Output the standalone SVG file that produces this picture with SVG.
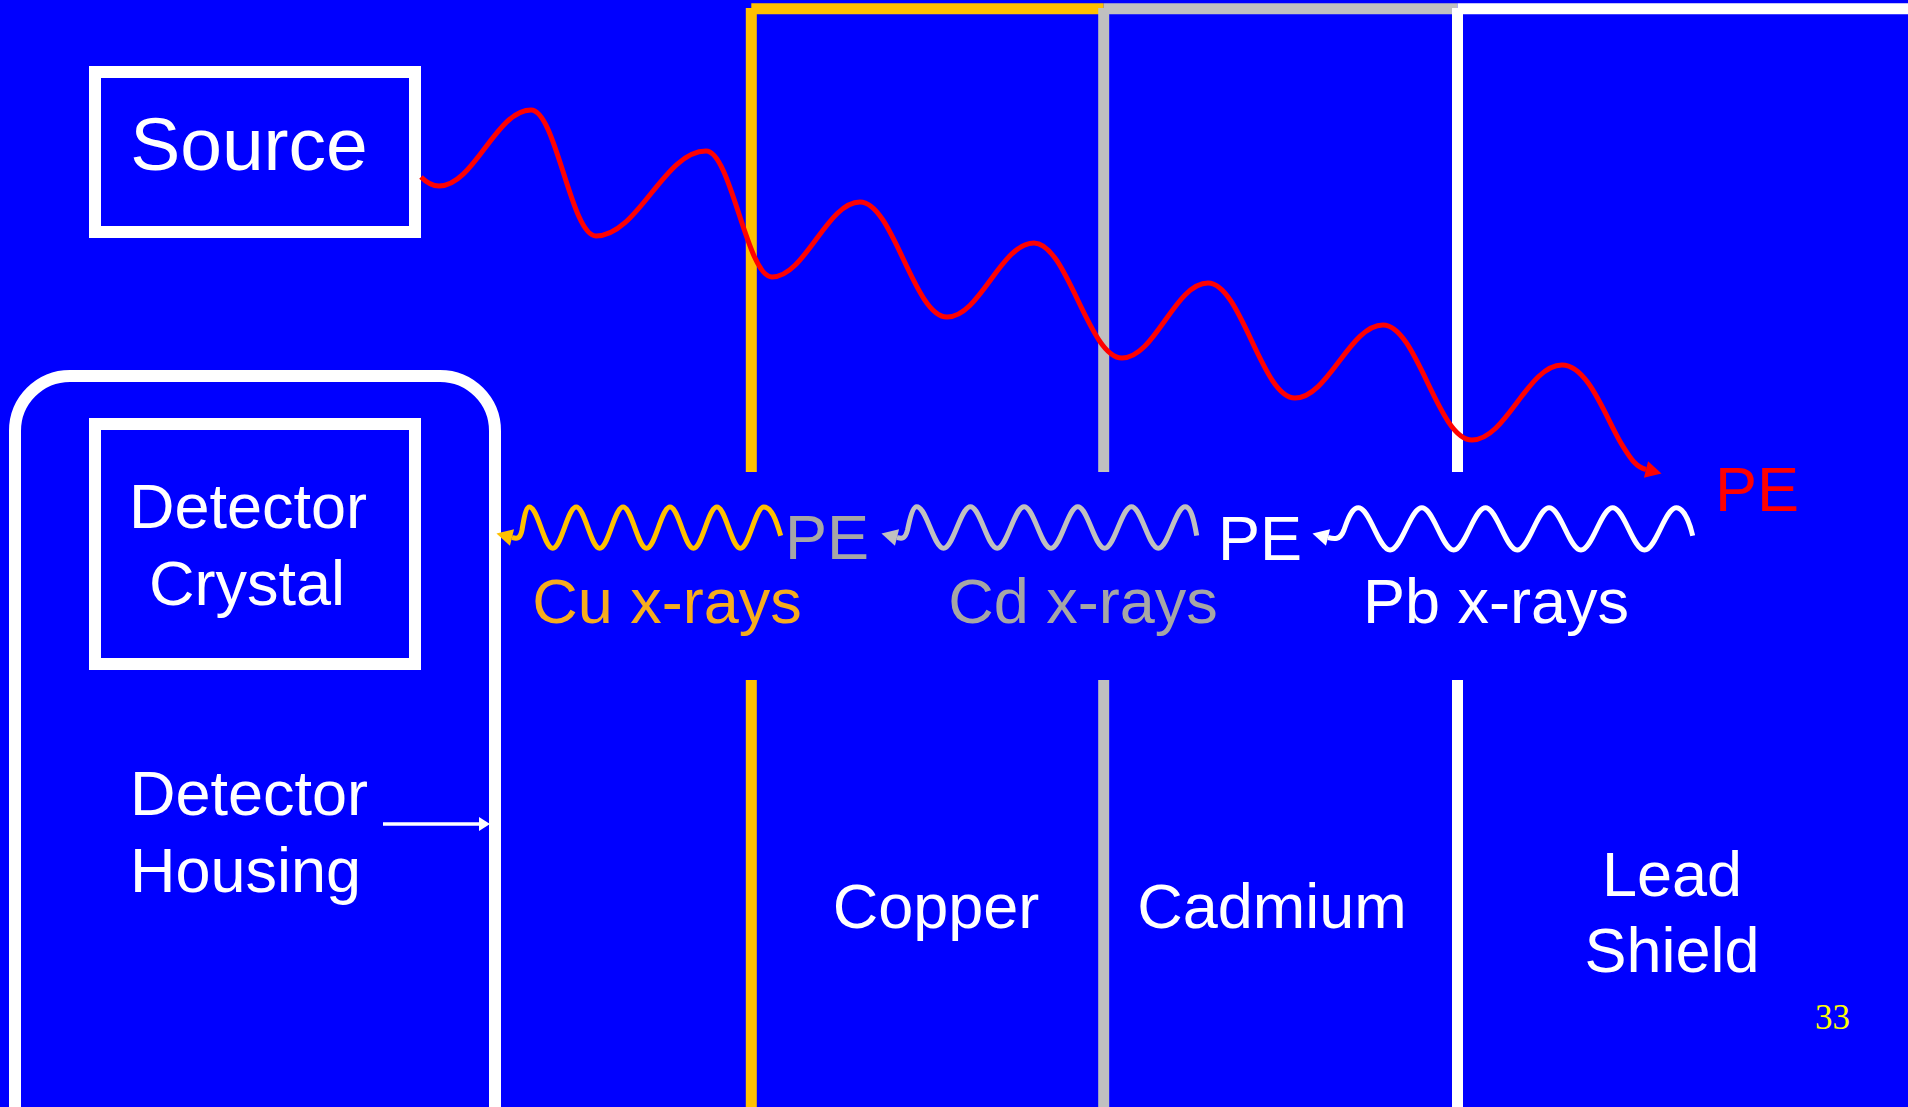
<svg xmlns="http://www.w3.org/2000/svg" width="1908" height="1107" viewBox="0 0 1908 1107">
<defs>
<style>
text{font-family:"Liberation Sans",Arial,sans-serif;}
.box{fill:none;stroke:#FFFFFF;stroke-width:12;}
.t63{font-size:63px;}
.w{fill:#FFFFFF;}
.wall{fill:none;stroke-width:11;stroke-linecap:butt;}
.cu{stroke:#FFC000;}
.cd{stroke:#C0C0C0;}
.pb{stroke:#FFFFFF;}
.xr{fill:none;stroke-width:5;stroke-linejoin:round;}
</style>
<marker id="ahR" markerUnits="userSpaceOnUse" markerWidth="18" markerHeight="18" refX="0" refY="8.5" orient="auto" overflow="visible"><path d="M0,0 L16,8.5 L0,17 z" fill="#FF0000"/></marker>
<marker id="ahY" markerUnits="userSpaceOnUse" markerWidth="18" markerHeight="18" refX="0" refY="8.5" orient="auto-start-reverse" overflow="visible"><path d="M0,0 L16,8.5 L0,17 z" fill="#FFC000"/></marker>
<marker id="ahG" markerUnits="userSpaceOnUse" markerWidth="18" markerHeight="18" refX="0" refY="8.5" orient="auto-start-reverse" overflow="visible"><path d="M0,0 L16,8.5 L0,17 z" fill="#C0C0C0"/></marker>
<marker id="ahW" markerUnits="userSpaceOnUse" markerWidth="18" markerHeight="18" refX="0" refY="8.5" orient="auto-start-reverse" overflow="visible"><path d="M0,0 L16,8.5 L0,17 z" fill="#FFFFFF"/></marker>
<marker id="ahH" markerUnits="userSpaceOnUse" markerWidth="14" markerHeight="16" refX="0" refY="7" orient="auto" overflow="visible"><path d="M0,0 L11,7 L0,14 z" fill="#FFFFFF"/></marker>
</defs>
<rect x="0" y="0" width="1908" height="1107" fill="#0000FF"/>

<g id="copper-layer">
<path class="wall cu" d="M751.3,8 V472 M751.3,680 V1107 M751.3,8.7 H1103.7"/>
<text class="t63 w" x="936" y="928" text-anchor="middle">Copper</text>
</g>
<g id="cadmium-layer">
<path class="wall cd" d="M1103.7,8 V472 M1103.7,680 V1107 M1103.7,8.7 H1457.5"/>
<text class="t63 w" x="1272" y="928" text-anchor="middle">Cadmium</text>
</g>
<g id="lead-shield">
<path class="wall pb" d="M1457.5,8 V472 M1457.5,680 V1107 M1457.5,8.7 H1908"/>
<text class="t63 w" x="1672" y="896" text-anchor="middle">Lead</text>
<text class="t63 w" x="1672" y="972" text-anchor="middle">Shield</text>
</g>

<g id="source">
<rect class="box" x="95" y="72" width="320" height="160"/>
<text class="w" x="249" y="170" font-size="75" text-anchor="middle">Source</text>
</g>

<g id="detector-housing">
<path class="box" d="M15,1120 V431 A55,55 0 0 1 70,376 H440 A55,55 0 0 1 495,431 V1120"/>
<text class="t63 w" x="130" y="815">Detector</text>
<text class="t63 w" x="130" y="892">Housing</text>
</g>

<g id="detector-crystal">
<rect class="box" x="95" y="424" width="320" height="240"/>
<text class="t63 w" x="248" y="528" text-anchor="middle">Detector</text>
<text class="t63 w" x="247" y="605" text-anchor="middle">Crystal</text>
</g>

<g id="connectors">
<path id="gamma" fill="none" stroke="#FF0000" stroke-width="5" marker-end="url(#ahR)" d="M421,177 C428,184 433,186 439,186 C474,186 496,110 531,110 C556,110 571,236 596,236 C638,236 664,151 706,151 C731,151 747,277 772,277 C805,277 827,202 860,202 C893,202 914,317 947,317 C980,317 1001,243 1034,243 C1067,243 1089,358 1122,358 C1155,358 1175,283 1208,283 C1241,283 1262,398 1295,398 C1328,398 1350,325 1383,325 C1417,325 1438,440 1472,440 C1506,440 1528,365 1562,365 C1590,365 1608,425 1624,448 C1631,459 1636,467 1646,469.5"/>
<path id="cu-xray" class="xr cu" marker-start="url(#ahY)" d="M512,537.5 C516,538.5 520,540 522,530 C524,518 526,507 529.3,507 C537.8,507 544.2,548.3 552.75,548.3 C561.3,548.3 567.7,507 576.2,507 C584.7,507 591.1,548.3 599.65,548.3 C608.2,548.3 614.6,507 623.1,507 C631.6,507 638,548.3 646.55,548.3 C655.1,548.3 661.5,507 670,507 C678.5,507 684.9,548.3 693.45,548.3 C702,548.3 708.4,507 716.9,507 C725.4,507 731.8,548.3 740.35,548.3 C748.9,548.3 755.3,507 763.8,507 C771.5,507 776,520 780.7,535.7"/>
<path id="cd-xray" class="xr cd" marker-start="url(#ahG)" d="M897,537.5 C901,538.5 905,540 907.5,530 C910,518 913,506.7 916.7,506.7 C926.5,506.7 933.8,548.3 943.55,548.3 C953.3,548.3 960.6,506.7 970.4,506.7 C980.2,506.7 987.5,548.3 997.25,548.3 C1007,548.3 1014.3,506.7 1024.1,506.7 C1033.9,506.7 1041.2,548.3 1050.95,548.3 C1060.7,548.3 1068,506.7 1077.8,506.7 C1087.6,506.7 1094.9,548.3 1104.65,548.3 C1114.4,548.3 1121.7,506.7 1131.5,506.7 C1141.3,506.7 1148.6,548.3 1158.35,548.3 C1168.1,548.3 1175.4,506.7 1185.2,506.7 C1191,506.7 1194,520 1196.7,535.7"/>
<path id="pb-xray" class="xr pb" marker-start="url(#ahW)" d="M1328,537.5 C1334,539 1340,540.5 1344,530 C1348,518 1352,507.7 1358.3,507.7 C1369.9,507.7 1378.5,550 1390.1,550 C1401.7,550 1410.3,507.7 1421.9,507.7 C1433.5,507.7 1442.1,550 1453.7,550 C1465.3,550 1473.9,507.7 1485.5,507.7 C1497.1,507.7 1505.7,550 1517.3,550 C1528.9,550 1537.5,507.7 1549.1,507.7 C1560.7,507.7 1569.3,550 1580.9,550 C1592.5,550 1601.1,507.7 1612.7,507.7 C1624.3,507.7 1632.9,550 1644.5,550 C1656.1,550 1664.7,507.7 1676.3,507.7 C1683,507.7 1689,520 1692.7,535.7"/>
<path id="housing-pointer" fill="none" stroke="#FFFFFF" stroke-width="3.5" marker-end="url(#ahH)" d="M383,824 H479"/>
</g>

<g id="labels">
<text class="t63" x="785" y="559" fill="#A6A6A6">PE</text>
<text class="t63 w" x="1218" y="560">PE</text>
<text class="t63" x="1715" y="511" fill="#FF0000">PE</text>
<text class="t63" x="667" y="623" text-anchor="middle" fill="#F6AC1E">Cu x-rays</text>
<text class="t63" x="1083" y="623" text-anchor="middle" fill="#A6A6A6">Cd x-rays</text>
<text class="t63 w" x="1496" y="623" text-anchor="middle">Pb x-rays</text>
<text x="1815" y="1029" font-size="35" fill="#FFFF00" style="font-family:'Liberation Serif','Times New Roman',serif">33</text>
</g>
</svg>
